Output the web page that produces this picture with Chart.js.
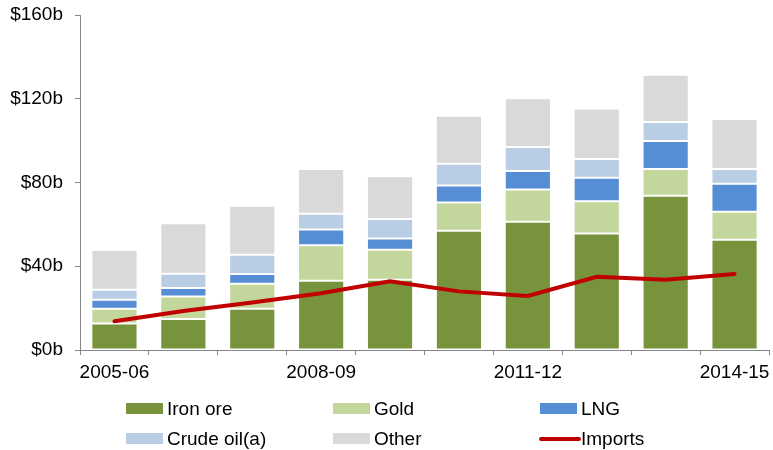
<!DOCTYPE html>
<html>
<head>
<meta charset="utf-8">
<script src="https://cdn.jsdelivr.net/npm/chart.js@4/dist/chart.umd.min.js"></script>
<style>
  html, body { margin: 0; padding: 0; background: #ffffff; }
  #wrap { position: relative; width: 773px; height: 450px; }
  #legend { position: absolute; left: 0; top: 0; width: 773px; height: 450px; pointer-events: none;
            font-family: "Liberation Sans", Arial, sans-serif; font-size: 19px; color: #000; }
  .item { position: absolute; height: 22px; line-height: 22px; white-space: nowrap; }
  .swatch { position: absolute; left: 0; }
  .label { position: absolute; left: 41px; top: 0; }
</style>
</head>
<body>
<div id="wrap">
  <canvas id="c" width="773" height="450"></canvas>
  <div id="legend"></div>
</div>
<script>
const categories = ["2005-06","2006-07","2007-08","2008-09","2009-10","2010-11","2011-12","2012-13","2013-14","2014-15"];
const ironOre  = [12.7, 14.8, 19.7, 33.1, 33.6, 57.0, 61.2, 55.6, 73.7, 52.7];
const gold     = [7.0, 10.7, 12.0, 16.9, 14.3, 13.4, 15.4, 15.4, 12.7, 13.3];
const lng      = [4.3, 4.1, 4.6, 7.5, 5.4, 8.2, 8.9, 11.3, 13.4, 13.4];
const crudeOil = [4.8, 6.8, 9.2, 7.6, 9.3, 10.4, 11.5, 8.9, 9.1, 7.0];
const other    = [19.0, 24.1, 23.4, 21.3, 20.4, 22.9, 23.2, 24.1, 22.6, 23.9];
const imports  = [13.7, 18.6, 22.7, 27.1, 32.8, 28.0, 25.8, 35.0, 33.6, 36.3];
const yTicks   = [0, 40, 80, 120, 160];
const shownLabels = ["2005-06","2008-09","2011-12","2014-15"];

const FONT = "'Liberation Sans', Arial, sans-serif";
const AXIS = "#868686";
const segBorder = "rgba(255,255,255,0.45)";

function barSet(label, data, color) {
  return { type: "bar", label, data, backgroundColor: color, borderColor: segBorder,
           borderWidth: 1, borderSkipped: false, stack: "exports", order: 1,
           barPercentage: 0.67, categoryPercentage: 1.0 };
}

const chart = new Chart(document.getElementById("c"), {
  data: {
    labels: categories,
    datasets: [
      barSet("Iron ore", ironOre, "#77933C"),
      barSet("Gold", gold, "#C3D69B"),
      barSet("LNG", lng, "#558ED5"),
      barSet("Crude oil(a)", crudeOil, "#B9CDE5"),
      barSet("Other", other, "#D9D9D9"),
      { type: "line", label: "Imports", data: imports, borderColor: "#C00000", backgroundColor: "#C00000",
        borderWidth: 4, pointRadius: 0, tension: 0, stack: "imports", order: 0, borderCapStyle: "round" }
    ]
  },
  options: {
    responsive: false,
    animation: false,
    devicePixelRatio: 1,
    layout: { padding: { top: 15, right: 4, left: 0, bottom: 0 } },
    plugins: { legend: { display: false }, tooltip: { enabled: false } },
    scales: {
      x: {
        stacked: true,
        border: { display: true, color: AXIS, width: 1 },
        grid: { display: true, offset: true, drawOnChartArea: false, drawTicks: true, tickLength: 5, color: AXIS },
        ticks: {
          autoSkip: false, maxRotation: 0, minRotation: 0, padding: 6,
          color: "#000", font: { family: FONT, size: 19 },
          callback: function(v, i) { const l = categories[i]; return shownLabels.includes(l) ? l : ""; }
        },
        afterFit: function(s) { s.height = 100; s.paddingLeft = 0; s.paddingRight = 0; }
      },
      y: {
        stacked: true, min: 0, max: 160,
        border: { display: true, color: AXIS, width: 1 },
        grid: { display: true, drawOnChartArea: false, drawTicks: true, tickLength: 5, color: AXIS },
        afterBuildTicks: function(s) { s.ticks = yTicks.map(v => ({ value: v })); },
        ticks: {
          padding: 12, color: "#000", font: { family: FONT, size: 19 },
          callback: function(v) { return "$" + v + "b"; }
        },
        afterFit: function(s) { s.width = 80; s.paddingTop = 0; s.paddingBottom = 0; }
      }
    }
  }
});

// HTML legend built from the chart's datasets
const cols = [126, 333, 540];
const rows = [409, 439];
const legend = document.getElementById("legend");
chart.data.datasets.forEach(function(ds, i) {
  const item = document.createElement("div");
  item.className = "item";
  item.style.left = cols[i % 3] + "px";
  item.style.top = (rows[Math.floor(i / 3)] - 11) + "px";
  const sw = document.createElement("div");
  sw.className = "swatch";
  if (ds.type === "line") {
    sw.style.width = "42px"; sw.style.height = "4px"; sw.style.top = "9px"; sw.style.left = "-1px";
    sw.style.borderRadius = "2px";
    sw.style.background = ds.borderColor;
  } else {
    sw.style.width = "37px"; sw.style.height = "11px"; sw.style.top = "5px";
    sw.style.background = ds.backgroundColor;
  }
  const lb = document.createElement("span");
  lb.className = "label";
  lb.textContent = ds.label;
  item.appendChild(sw); item.appendChild(lb);
  legend.appendChild(item);
});
</script>
</body>
</html>
